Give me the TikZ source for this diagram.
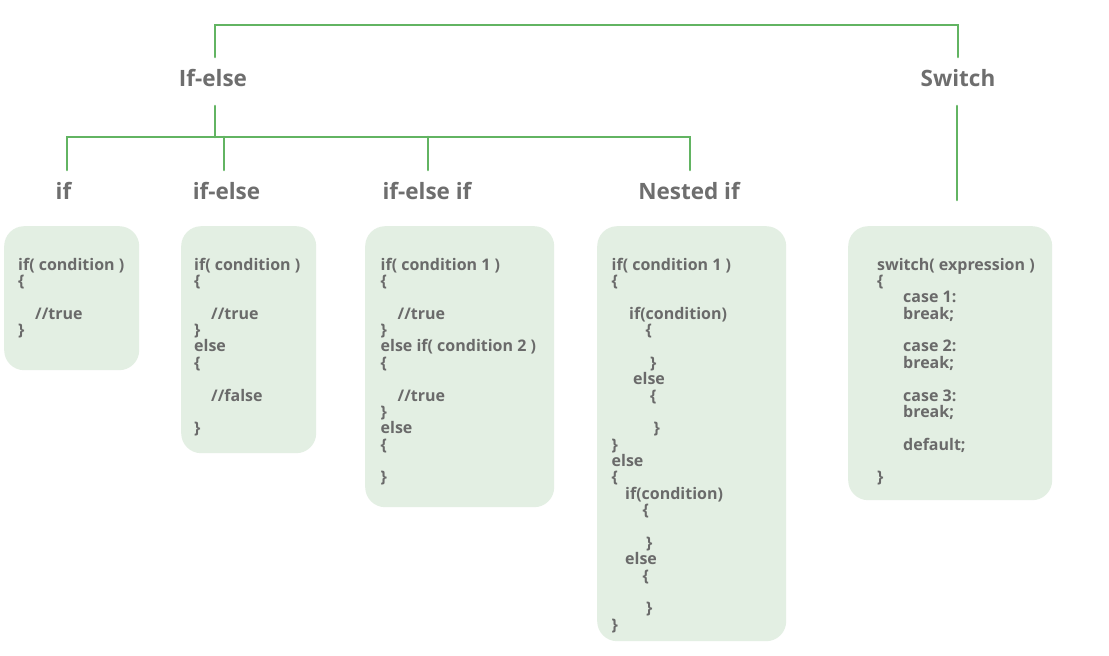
\documentclass[tikz,border=0pt]{standalone}
\usepackage{fontspec}
\setmainfont{Open Sans}
\definecolor{linegreen}{HTML}{62B462}
\definecolor{boxfill}{HTML}{E3EFE3}
\definecolor{labelgrey}{HTML}{6E6E6E}
\definecolor{codegrey}{HTML}{6A6A6A}
\tikzset{
  conn/.style={draw=linegreen, line width=2.6pt, line cap=round, line join=miter},
  title/.style={text=labelgrey, font=\fontsize{22.5}{26}\selectfont\bfseries, inner sep=0pt, anchor=base},
  box/.style={fill=boxfill, rounded corners=20pt, draw=none, inner sep=0pt, anchor=north west},
  code/.style={text=codegrey, font=\fontsize{16}{18}\selectfont\bfseries, inner sep=0pt, anchor=base west},
}
\begin{document}
\begin{tikzpicture}[x=1pt,y=-1pt]
\useasboundingbox (0,0) rectangle (1109,656);
\fill[white] (0,0) rectangle (1109,656);

% titles
\node[title] (IfElse) at (213,86) {If-else};
\node[title] (Switch) at (958,86) {Switch};
\node[title] (If) at (63.5,199) {if};
\node[title] (IfElse2) at (226.5,199) {if-else};
\node[title] (IfElseIf) at (427,199) {if-else if};
\node[title] (Nested) at (689,199) {Nested if};

% connector endpoints
\coordinate (ieTop) at (215,57);
\coordinate (swTop) at (958,57);
\coordinate (ieBot) at (215,106);
\coordinate (swBot) at (957,106);
\coordinate (swEnd) at (957,200);
\coordinate (c1) at (67,170);
\coordinate (c2) at (224,170);
\coordinate (c3) at (428,170);
\coordinate (c4) at (690,170);

\draw[conn] (ieTop) -- (215,25) -| (swTop);
\draw[conn] (ieBot) -- (215,137);
\draw[conn] (c1) -- (67,137) -- (690,137) -- (c4);
\draw[conn] (c2) -- (224,137);
\draw[conn] (c3) -- (428,137);
\draw[conn] (swBot) -- (swEnd);

% boxes
\node[box, minimum width=135pt, minimum height=144pt] (box1) at (4,226) {};
\node[box, minimum width=135pt, minimum height=227pt] (box2) at (181,226) {};
\node[box, minimum width=189pt, minimum height=281pt] (box3) at (365,226) {};
\node[box, minimum width=189pt, minimum height=415pt] (box4) at (597,226) {};
\node[box, minimum width=204pt, minimum height=274pt] (box5) at (848,226) {};

\def\bl{270}
\def\ls{16.38}

% box 1
\foreach \ind/\ln/\txt [count=\k] in {0/0/{if( condition )}, 0/1/\{, 17/3/{//true}, 0/4/\}}
  \node[code] (a\k) at (18+\ind,\bl+\ln*\ls) {\txt};

% box 2
\foreach \ind/\ln/\txt [count=\k] in {0/0/{if( condition )}, 0/1/\{, 17/3/{//true}, 0/4/\}, 0/5/else, 0/6/\{, 17/8/{//false}, 0/10/\}}
  \node[code] (b\k) at (194+\ind,\bl+\ln*\ls) {\txt};

% box 3
\foreach \ind/\ln/\txt [count=\k] in {0/0/{if( condition 1 )}, 0/1/\{, 17/3/{//true}, 0/4/\}, 0/5/{else if( condition 2 )}, 0/6/\{, 17/8/{//true}, 0/9/\}, 0/10/else, 0/11/\{, 0/13/\}}
  \node[code] (c\k) at (380.5+\ind,\bl+\ln*\ls) {\txt};

% box 4
\foreach \ind/\ln/\txt [count=\k] in {0/0/{if( condition 1 )}, 0/1/\{, 17.5/3/{if(condition)}, 34/4/\{, 38.5/6/\}, 21.5/7/else, 38.5/8/\{, 42/10/\}, 0/11/\}, 0/12/else, 0/13/\{, 13.5/14/{if(condition)}, 31/15/\{, 34.5/17/\}, 13.5/18/else, 31/19/\{, 34.5/21/\}, 0/22/\}}
  \node[code] (d\k) at (611.5+\ind,\bl+\ln*\ls) {\txt};

% box 5
\foreach \ind/\ln/\txt [count=\k] in {0/0/{switch( expression )}, 0/1/\{, 26/2/{case 1:}, 26/3/{break;}, 26/5/{case 2:}, 26/6/{break;}, 26/8/{case 3:}, 26/9/{break;}, 26/11/{default;}, 0/13/\}}
  \node[code] (e\k) at (877+\ind,\bl+\ln*\ls) {\txt};
\end{tikzpicture}
\end{document}
